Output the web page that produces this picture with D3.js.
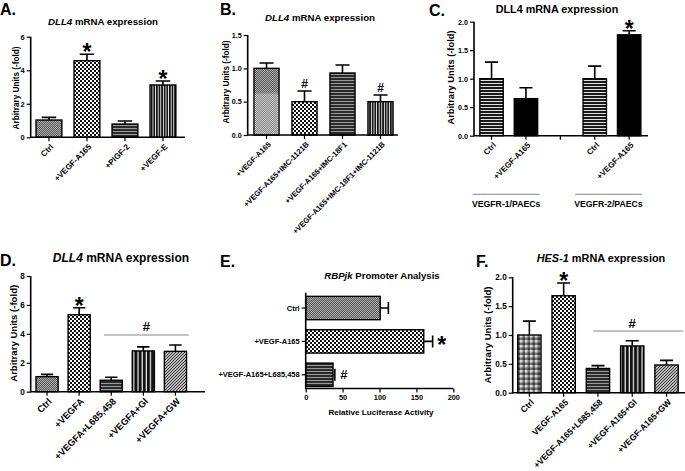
<!DOCTYPE html>
<html><head><meta charset="utf-8">
<script src="https://cdn.jsdelivr.net/npm/d3@7"></script>
<style>
html,body{margin:0;padding:0;background:#fff;}
svg{display:block;font-family:"Liberation Sans",Arial,sans-serif;font-weight:bold;}
</style></head>
<body><svg id="c" width="685" height="471"></svg>
<script>
// ---------------- DATA ----------------
const aCats  = ["Ctrl","+VEGF-A165","+PlGF-2","+VEGF-E"];
const aMeans = [1.03, 4.57, 0.79, 3.12];
const aSems  = [0.16, 0.38, 0.18, 0.24];
const aTicks = [0, 2, 4, 6];

const bCats  = ["+VEGF-A165","+VEGF-A165+IMC-1121B","+VEGF-A165+IMC-18F1","+VEGF-A165+IMC-18F1+IMC-1121B"];
const bMeans = [1.00, 0.50, 0.93, 0.50];
const bSems  = [0.08, 0.16, 0.12, 0.10];
const bTicks = [0, 0.5, 1.0, 1.5];

const cKeys   = ["r1ctrl","r1vegf","gap","r2ctrl","r2vegf"];
const cLabels = ["Ctrl","+VEGF-A165","","Ctrl","+VEGF-A165"];
const cMeans  = [1.00, 0.65, null, 1.00, 1.77];
const cSems   = [0.29, 0.19, null, 0.22, 0.07];
const cGroups = ["VEGFR-1/PAECs","VEGFR-2/PAECs"];
const cTicks  = [0, 0.5, 1.0, 1.5, 2.0];

const dCats  = ["Ctrl","+VEGFA","+VEGFA+L685,458","+VEGFA+GI","+VEGFA+GW"];
const dMeans = [1.04, 5.32, 0.79, 2.82, 2.79];
const dSems  = [0.16, 0.48, 0.21, 0.28, 0.44];
const dTicks = [0, 2, 4, 6, 8];

const eCats  = ["Ctrl","+VEGF-A165","+VEGF-A165+L685,458"];
const eMeans = [101, 160, 37];
const eSems  = [11, 12, 2.5];
const eTicks = [0, 50, 100, 150, 200];

const fCats  = ["Ctrl","VEGF-A165","+VEGF-A165+L685,458","+VEGF-A165+GI","+VEGF-A165+GW"];
const fMeans = [1.00, 1.68, 0.42, 0.81, 0.48];
const fSems  = [0.24, 0.22, 0.05, 0.09, 0.08];
const fTicks = [0, 0.5, 1.0, 1.5, 2.0];

// ---------------- PATTERNS ----------------
const svg = d3.select("#c");
const defs = svg.append("defs");
function pat(id, w, h, draw){
  const p = defs.append("pattern").attr("id",id).attr("patternUnits","userSpaceOnUse")
    .attr("width",w).attr("height",h);
  draw(p); return "url(#"+id+")";
}
const P = {
  fine: pat("fine",2,2,p=>{p.append("rect").attr("width",2).attr("height",2).attr("fill","#555");
     p.append("rect").attr("width",1).attr("height",1).attr("fill","#b0b0b0");
     p.append("rect").attr("x",1).attr("y",1).attr("width",1).attr("height",1).attr("fill","#b0b0b0");}),
  med: pat("med",5,5,p=>{p.append("rect").attr("width",5).attr("height",5).attr("fill","#7a7a7a");
     p.append("rect").attr("width",2.5).attr("height",2.5).attr("fill","#d8d8d8");
     p.append("rect").attr("x",2.5).attr("y",2.5).attr("width",2.5).attr("height",2.5).attr("fill","#3a3a3a");}),
  big: pat("big",4,4,p=>{p.append("rect").attr("width",4).attr("height",4).attr("fill","#fff");
     p.append("rect").attr("width",2).attr("height",2).attr("fill","#111");
     p.append("rect").attr("x",2).attr("y",2).attr("width",2).attr("height",2).attr("fill","#111");}),
  hs: pat("hs",3,3,p=>{p.append("rect").attr("width",3).attr("height",3).attr("fill","#2a2a2a");
     p.append("rect").attr("y",2).attr("width",3).attr("height",1).attr("fill","#9a9a9a");}),
  hsw: pat("hsw",3,3,p=>{p.append("rect").attr("width",3).attr("height",3).attr("fill","#1a1a1a");
     p.append("rect").attr("y",2).attr("width",3).attr("height",1).attr("fill","#e0e0e0");}),
  vs: pat("vs",2.6,3,p=>{p.append("rect").attr("width",2.6).attr("height",3).attr("fill","#111");
     p.append("rect").attr("x",1.7).attr("width",0.9).attr("height",3).attr("fill","#eee");}),
  vsw: pat("vsw",4.2,3,p=>{p.append("rect").attr("width",4.2).attr("height",3).attr("fill","#111");
     p.append("rect").attr("x",3).attr("width",1.2).attr("height",3).attr("fill","#eee");}),
  diag: pat("diag",3,3,p=>{p.append("rect").attr("width",3).attr("height",3).attr("fill","#bbb");
     p.append("path").attr("d","M-1,1 L1,-1 M0,3 L3,0 M2,4 L4,2").attr("stroke","#333").attr("stroke-width",1);}),
  black: "#000"
};
// gradient overlay for panel B first bar
const g = defs.append("linearGradient").attr("id","fade").attr("x1",0).attr("y1",0).attr("x2",0).attr("y2",1);
g.append("stop").attr("offset","0").attr("stop-color","#fff").attr("stop-opacity",0);
g.append("stop").attr("offset","0.35").attr("stop-color","#fff").attr("stop-opacity",0);
g.append("stop").attr("offset","0.4").attr("stop-color","#fff").attr("stop-opacity",0.3);
g.append("stop").attr("offset","1").attr("stop-color","#fff").attr("stop-opacity",0.3);

// ---------------- HELPERS ----------------
const STAR = 23, STAR_DY = 6;
function letter(t,x,y){ svg.append("text").attr("x",x).attr("y",y).attr("font-size",16).text(t); }
function title(parts,cx,y,fs){
  const t = svg.append("text").attr("x",cx).attr("y",y).attr("text-anchor","middle").attr("font-size",fs);
  parts.forEach(p=>t.append("tspan").attr("font-style",p[1]?"italic":"normal").text(p[0]));
}
function ytitle(t,x,cy,fs){
  svg.append("text").attr("transform",`translate(${x},${cy}) rotate(-90)`).attr("dy","0.35em")
    .attr("text-anchor","middle").attr("font-size",fs).text(t);
}

function vpanel(o){
  const G = svg.append("g");
  const x = d3.scaleBand().domain(o.keys).range([o.x0,o.x1]).paddingInner(o.pi).paddingOuter(o.po);
  const y = d3.scaleLinear().domain([o.ticks[0],o.ticks[o.ticks.length-1]]).range([o.yBot,o.yTop]);
  const bw = x.bandwidth();
  const idx = o.keys.map((k,i)=>i).filter(i=>o.means[i]!=null);
  G.selectAll("rect.bar").data(idx).join("rect").attr("class","bar")
    .attr("x",i=>x(o.keys[i])).attr("width",bw)
    .attr("y",i=>y(o.means[i])).attr("height",i=>y(0)-y(o.means[i]))
    .attr("fill",i=>o.fills[i]).attr("stroke","#000").attr("stroke-width",1.4);
  if(o.overlay!=null){
    const i=o.overlay;
    G.append("rect").attr("x",x(o.keys[i])+0.7).attr("width",bw-1.4)
      .attr("y",y(o.means[i])+0.7).attr("height",y(0)-y(o.means[i])-1.4).attr("fill","url(#fade)");
  }
  const cw = bw*0.56;
  G.selectAll("path.err").data(idx).join("path").attr("class","err")
    .attr("d",i=>{const cx=x(o.keys[i])+bw/2, y1=y(o.means[i]), y2=y(o.means[i]+o.sems[i]);
       return `M${cx},${y1}V${y2}M${cx-cw/2},${y2}H${cx+cw/2}`;})
    .attr("stroke","#000").attr("stroke-width",1.6).attr("fill","none");
  const ya = G.append("g").attr("transform",`translate(${o.x0},0)`)
    .call(d3.axisLeft(y).tickValues(o.ticks).tickSize(4).tickPadding(2).tickFormat(o.fmt));
  ya.select(".domain").remove();
  ya.selectAll("line").attr("stroke-width",1.2);
  ya.selectAll("text").attr("font-size",o.tfs).attr("font-family","Liberation Sans, Arial").attr("font-weight","bold");
  G.append("path").attr("d",`M${o.x0},${o.yTop}V${o.yBot}H${o.axEnd}`).attr("stroke","#000").attr("stroke-width",1.6).attr("fill","none");
  G.selectAll("line.xt").data(o.keys).join("line").attr("class","xt")
    .attr("x1",k=>x(k)+bw/2).attr("x2",k=>x(k)+bw/2).attr("y1",o.yBot).attr("y2",o.yBot+4)
    .attr("stroke","#000").attr("stroke-width",1.2);
  G.selectAll("text.xl").data(o.keys).join("text").attr("class","xl")
    .attr("transform",k=>`translate(${x(k)+bw/2+o.lx},${o.yBot+o.ly}) rotate(-45)`)
    .attr("text-anchor","end").attr("dy","0.35em").attr("font-size",o.lfs)
    .text((k,i)=>o.labels[i]);
  (o.marks||[]).forEach(m=>{
    const i=m.i, cx=x(o.keys[i])+bw/2, top=y(o.means[i]+o.sems[i]);
    if(m.t==="*") G.append("text").attr("x",cx).attr("y",top+STAR_DY).attr("text-anchor","middle").attr("font-size",STAR).text("*");
    else G.append("text").attr("x",cx).attr("y",top+m.dy).attr("text-anchor","middle").attr("font-size",m.fs).text("#");
  });
  return {x,y,bw,G};
}

// ---------------- PANEL A ----------------
letter("A.",0,15);
title([["DLL4",true],[" mRNA expression",false]],103,25,9.7);
ytitle("Arbitrary Units (-fold)",16.5,88,8.2);
vpanel({keys:aCats,labels:aCats,means:aMeans,sems:aSems,ticks:aTicks,fmt:d3.format("d"),
  x0:30.7,x1:181.2,pi:0.32,po:0.14,axEnd:185,yTop:36.7,yBot:137.3,
  fills:[P.fine,P.big,P.hs,P.vs],tfs:7.5,lfs:8.1,lx:3,ly:8,
  marks:[{i:1,t:"*"},{i:3,t:"*"}]});

// ---------------- PANEL B ----------------
letter("B.",220,15);
title([["DLL4",true],[" mRNA expression",false]],320,21,9.7);
ytitle("Arbitrary Units (-fold)",226.5,82,8.2);
vpanel({keys:bCats,labels:bCats,means:bMeans,sems:bSems,ticks:bTicks,fmt:d3.format(".1f"),
  x0:247.7,x1:399.3,pi:0.34,po:0.165,axEnd:398,yTop:35,yBot:135,
  fills:[P.fine,P.big,P.hs,P.vs],overlay:0,tfs:7.2,lfs:7.6,lx:3,ly:8,
  marks:[{i:1,t:"#",fs:12,dy:-3},{i:3,t:"#",fs:12,dy:-3}]});

// ---------------- PANEL C ----------------
letter("C.",429,16);
title([["DLL4 mRNA expression",false]],557,12.7,10.8);
ytitle("Arbitrary Units (-fold)",450.5,77.5,9.3);
const pc = vpanel({keys:cKeys,labels:cLabels,means:cMeans,sems:cSems,ticks:cTicks,fmt:d3.format(".1f"),
  x0:474,x1:646.7,pi:0.32,po:0.17,axEnd:648,yTop:21.7,yBot:135.7,
  fills:[P.hsw,P.black,null,P.hsw,P.black],tfs:7.2,lfs:8,lx:3,ly:8,
  marks:[{i:4,t:"*"}]});
[[0,1],[3,4]].forEach((pr,gi)=>{
  const xa = gi===0 ? 472.7 : pc.x(cKeys[pr[0]])-8;
  const xb = pc.x(cKeys[pr[1]])+pc.bw+(gi===0?2:1);
  svg.append("line").attr("x1",xa).attr("x2",xb).attr("y1",194.3).attr("y2",194.3).attr("stroke","#888").attr("stroke-width",1);
  svg.append("text").attr("x",(xa+xb)/2).attr("y",206.5).attr("text-anchor","middle").attr("font-size",8.7).text(cGroups[gi]);
});

// ---------------- PANEL D ----------------
letter("D.",0,266);
title([["DLL4",true],[" mRNA expression",false]],121,261.7,12);
ytitle("Arbitrary Units (-fold)",14,333.3,9.6);
const pd = vpanel({keys:dCats,labels:dCats,means:dMeans,sems:dSems,ticks:dTicks,fmt:d3.format("d"),
  x0:30.7,x1:191.8,pi:0.31,po:0.165,axEnd:205,yTop:276,yBot:391.7,
  fills:[P.fine,P.big,P.hs,P.vsw,P.diag],tfs:8.2,lfs:9.4,lx:3,ly:8,
  marks:[{i:1,t:"*"}]});
{
  const xa = pd.x(dCats[2])+3.7, xb = pd.x(dCats[4])+pd.bw+2.3;
  svg.append("line").attr("x1",xa).attr("x2",xb).attr("y1",335).attr("y2",335).attr("stroke","#888").attr("stroke-width",1);
  svg.append("text").attr("x",(xa+xb)/2).attr("y",331).attr("text-anchor","middle").attr("font-size",13).text("#");
}

// ---------------- PANEL E ----------------
letter("E.",220,267);
title([["RBPjk",true],[" Promoter Analysis",false]],382,279.3,9.6);
{
  const G = svg.append("g");
  const x = d3.scaleLinear().domain([0,200]).range([305.7,453.3]);
  const y = d3.scaleBand().domain(eCats).range([293,389.8]).paddingInner(0.3).paddingOuter(0.1);
  const bh = y.bandwidth(), axY = 388.5;
  const fills = [P.fine,P.big,P.hs];
  G.selectAll("rect").data(eCats).join("rect").attr("x",x(0)).attr("y",c=>y(c))
    .attr("width",(c,i)=>x(eMeans[i])-x(0)).attr("height",bh)
    .attr("fill",(c,i)=>fills[i]).attr("stroke","#000").attr("stroke-width",1.4);
  const ch = 12;
  G.selectAll("path.err").data(eCats).join("path")
    .attr("d",(c,i)=>{const cy=y(c)+bh/2, x1=x(eMeans[i]), x2=x(eMeans[i]+eSems[i]);
      return `M${x1},${cy}H${x2}M${x2},${cy-ch/2}V${cy+ch/2}`;})
    .attr("stroke","#000").attr("stroke-width",1.6).attr("fill","none");
  const xa = G.append("g").attr("transform",`translate(0,${axY})`)
    .call(d3.axisBottom(x).tickValues(eTicks).tickSize(4).tickPadding(2).tickFormat(d3.format("d")));
  xa.select(".domain").remove();
  xa.selectAll("line").attr("stroke-width",1.2);
  xa.selectAll("text").attr("font-size",7.4).attr("font-family","Liberation Sans, Arial").attr("font-weight","bold");
  G.append("path").attr("d",`M${x(0)},292.7V${axY}H${x(200)}`).attr("stroke","#000").attr("stroke-width",1.6).attr("fill","none");
  G.selectAll("line.yt").data(eCats).join("line").attr("x1",x(0)-4).attr("x2",x(0))
    .attr("y1",c=>y(c)+bh/2).attr("y2",c=>y(c)+bh/2).attr("stroke","#000").attr("stroke-width",1.2);
  G.selectAll("text.yl").data(eCats).join("text").attr("x",x(0)-6).attr("y",c=>y(c)+bh/2).attr("dy","0.35em")
    .attr("text-anchor","end").attr("font-size",7.5).text(c=>c);
  G.append("text").attr("x",x(eMeans[1]+eSems[1])+9).attr("y",y(eCats[1])+bh/2+12)
    .attr("text-anchor","middle").attr("font-size",STAR).text("*");
  G.append("text").attr("x",x(eMeans[2]+eSems[2])+9).attr("y",y(eCats[2])+bh/2+4.5)
    .attr("text-anchor","middle").attr("font-size",13).text("#");
  G.append("text").attr("x",381).attr("y",415).attr("text-anchor","middle").attr("font-size",8.1).text("Relative Luciferase Activity");
}

// ---------------- PANEL F ----------------
letter("F.",476,267);
title([["HES-1",true],[" mRNA expression",false]],601,261.7,10.9);
ytitle("Arbitrary Units (-fold)",487.5,335,9.6);
const pf = vpanel({keys:fCats,labels:fCats,means:fMeans,sems:fSems,ticks:fTicks,fmt:d3.format(".1f"),
  x0:512.7,x1:683.2,pi:0.32,po:0.146,axEnd:685,yTop:277.3,yBot:392.7,
  fills:[P.med,P.big,P.hs,P.vsw,P.diag],tfs:8.2,lfs:8.6,lx:3,ly:8,
  marks:[{i:1,t:"*"}]});
{
  const xa = pf.x(fCats[2])+7, xb = pf.x(fCats[4])+pf.bw+5;
  svg.append("line").attr("x1",xa).attr("x2",xb).attr("y1",331).attr("y2",331).attr("stroke","#888").attr("stroke-width",1);
  svg.append("text").attr("x",632).attr("y",327.5).attr("text-anchor","middle").attr("font-size",13).text("#");
}
</script></body></html>
